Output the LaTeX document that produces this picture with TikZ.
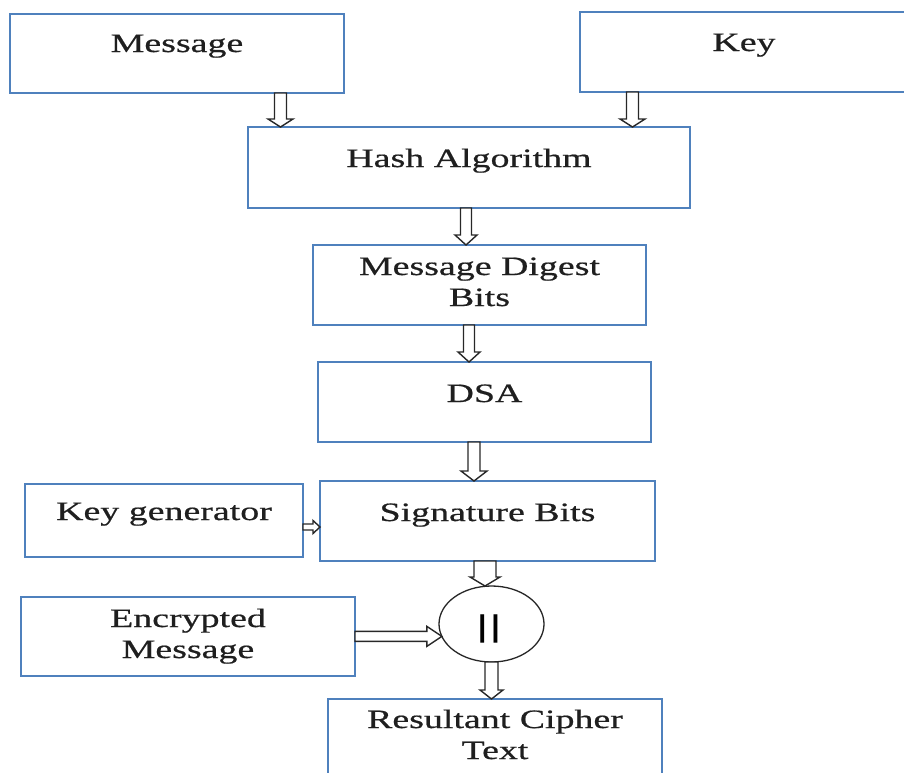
\documentclass[tikz,border=0pt]{standalone}
\usepackage{fontspec}
\setmainfont{Liberation Serif}[FakeStretch=1.43, FakeBold=0.6]
\newfontfamily\barfont{Liberation Sans}
\usetikzlibrary{calc,shapes.geometric}
\definecolor{boxblue}{RGB}{79,129,189}
\definecolor{arrowgray}{RGB}{40,40,40}
\newcommand\mainsz{\fontsize{26.5}{31}\selectfont}
\newcommand\twol[2]{\begin{tabular}[t]{@{}c@{}}#1\\#2\end{tabular}}
% block arrow: #1 start, #2 tip, #3 shaft half width, #4 head half width, #5 head length
\newcommand\blkarrow[5]{%
  \draw[blk] ($(#1)!#3!90:(#2)$)
    -- ($($(#2)!#5!(#1)$)!#3!-90:(#1)$)
    -- ($($(#2)!#5!(#1)$)!#4!-90:(#1)$)
    -- (#2)
    -- ($($(#2)!#5!(#1)$)!#4!90:(#1)$)
    -- ($($(#2)!#5!(#1)$)!#3!90:(#1)$)
    -- ($(#1)!#3!-90:(#2)$) -- cycle;}
\begin{document}
\begin{tikzpicture}[x=1pt,y=-1pt,
  box/.style={draw=boxblue, line width=1.6pt, rectangle, inner sep=0pt, outer sep=0pt,
    minimum height=0pt, anchor=north west, text=black!88, font=\mainsz},
  circ/.style={draw=black!85, line width=1.3pt, ellipse, inner sep=0pt, outer sep=0pt,
    minimum width=105pt, minimum height=76pt, text=black},
  blk/.style={draw=arrowgray, fill=white, line width=1.4pt, line join=miter}]
\clip (0,0) rectangle (904,772);
\fill[white] (0,0) rectangle (904,772);

% boxes
\node[box, minimum width=334pt, text height=38pt, text depth=41pt] (msg) at (10,14) {Message};
\node[box, minimum width=336pt, text height=39pt, text depth=41pt, align=left] (key) at (580,12) {\hspace*{-8pt}Key};
\node[box, minimum width=442pt, text height=40pt, text depth=41pt] (hash) at (248,127) {Hash Algorithm};
\node[box, minimum width=333pt, text height=30pt, text depth=50pt] (mdb) at (313,245) {\twol{Message Digest}{Bits}};
\node[box, minimum width=333pt, text height=40pt, text depth=40pt] (dsa) at (318,362) {DSA};
\node[box, minimum width=335pt, text height=40pt, text depth=40pt] (sig) at (320,481) {Signature Bits};
\node[box, minimum width=278pt, text height=36pt, text depth=37pt] (kg) at (25,484) {Key generator};
\node[box, minimum width=334pt, text height=30pt, text depth=49pt] (enc) at (21,597) {\twol{Encrypted}{Message}};
\node[box, minimum width=334pt, text height=29pt, text depth=60pt] (res) at (328,699) {\twol{Resultant Cipher}{Text}};
\node[circ, text height=25.6pt, text depth=0pt] (cat) at (491.5,624) {\barfont\bfseries\fontsize{30}{30}\selectfont |\kern5pt|\kern5pt};

% connector end points
\path (msg.south west) ++(270.5,0) coordinate (a1s);
\coordinate (a1e) at (a1s |- hash.north);
\path (key.south west) ++(52.5,0) coordinate (a2s);
\coordinate (a2e) at (a2s |- hash.north);
\path (hash.south west) ++(218,0) coordinate (a3s);
\coordinate (a3e) at (a3s |- mdb.north);
\path (mdb.south west) ++(156,0) coordinate (a4s);
\coordinate (a4e) at (a4s |- dsa.north);
\path (dsa.south west) ++(156,0) coordinate (a5s);
\coordinate (a5e) at (a5s |- sig.north);
\path (kg.north east) ++(0,43) coordinate (a6s);
\coordinate (a6e) at (a6s -| sig.west);
\path (sig.south west) ++(165,0) coordinate (a7s);
\coordinate (a7e) at (a7s |- cat.north);
\coordinate (a8e) at (cat.194);
\coordinate (a8s) at (enc.east |- a8e);
\coordinate (a9s) at (cat.south);
\coordinate (a9e) at (a9s |- res.north);

% connectors
\blkarrow{a1s}{a1e}{6pt}{12.5pt}{8pt}
\blkarrow{a2s}{a2e}{6pt}{12.5pt}{8pt}
\blkarrow{a3s}{a3e}{5.5pt}{11pt}{10pt}
\blkarrow{a4s}{a4e}{5.5pt}{11pt}{10pt}
\blkarrow{a5s}{a5e}{6pt}{13pt}{10pt}
\blkarrow{a6s}{a6e}{3pt}{6.5pt}{7pt}
\blkarrow{a7s}{a7e}{11pt}{15pt}{9pt}
\blkarrow{a8s}{a8e}{5pt}{10pt}{15pt}
\blkarrow{a9s}{a9e}{6.5pt}{11.5pt}{9pt}
\end{tikzpicture}
\end{document}
